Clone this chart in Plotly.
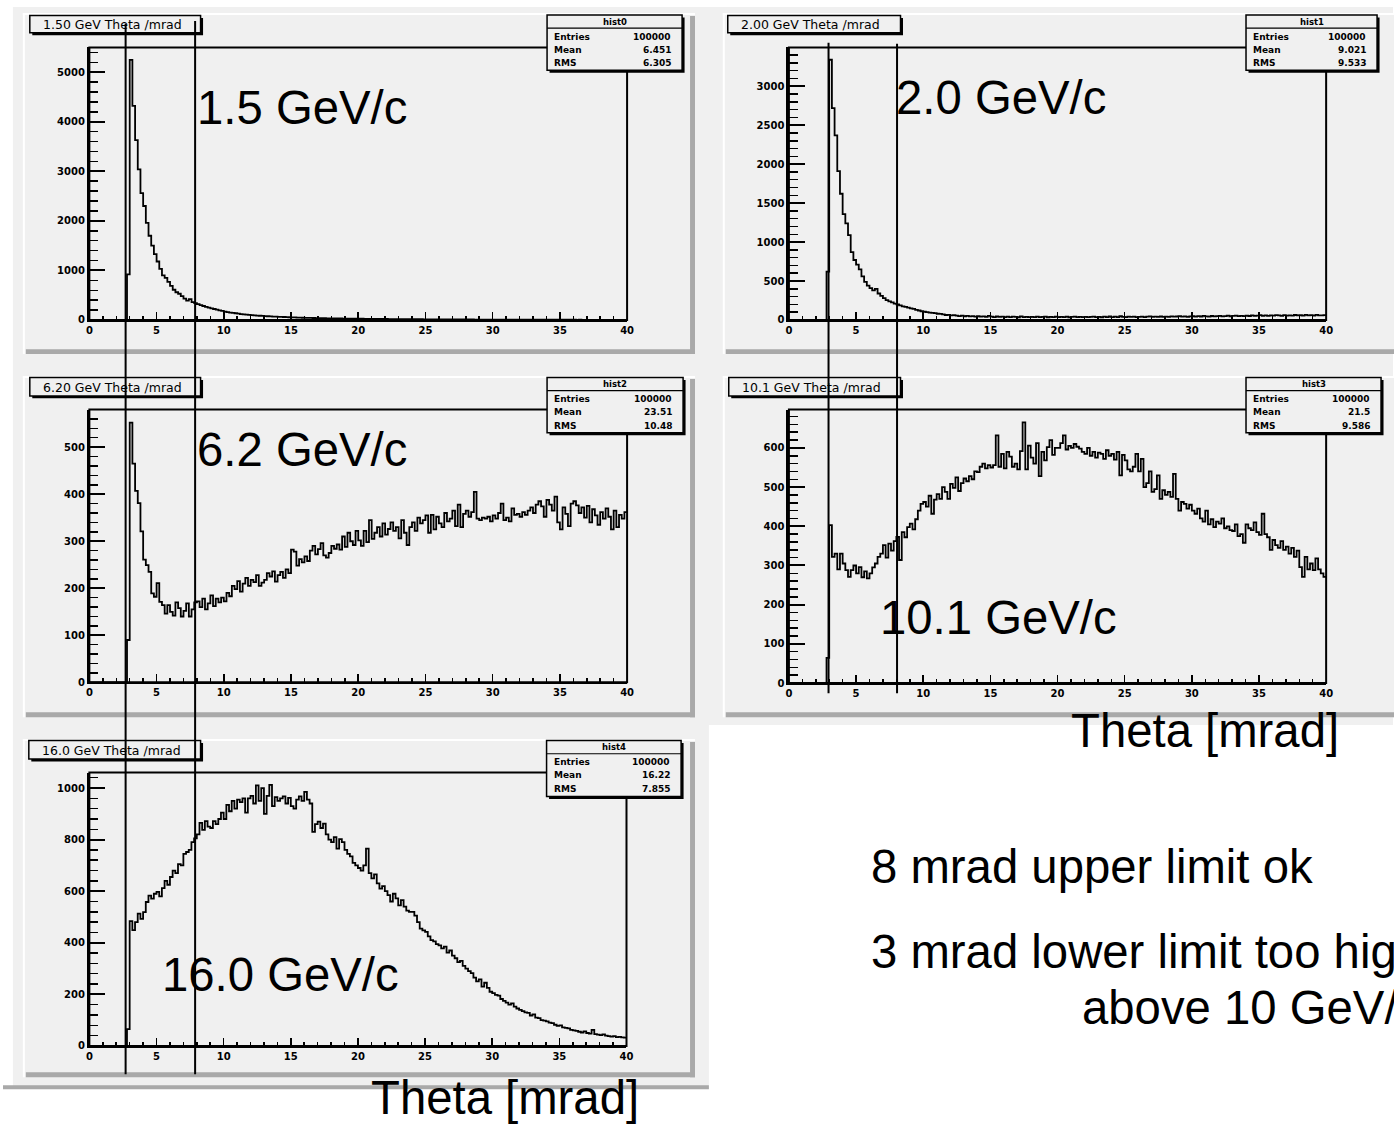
import numpy as np
import plotly.graph_objects as go

W, H = 1394, 1128

# ---------------- data ----------------
X_MIN, X_MAX, N_BINS = 0.0, 40.0, 200

H_1_5 = [
    0, 0, 0, 0, 0, 0, 0, 0, 0, 0,
    0, 0, 0, 0, 920, 5250, 4320, 3630, 3040, 2560,
    2300, 1960, 1700, 1500, 1330, 1180, 1030, 900, 850, 770,
    690, 610, 560, 530, 480, 430, 390, 420, 360, 340,
    320, 300, 282, 265, 250, 236, 222, 208, 196, 184,
    170, 160, 150, 142, 136, 128, 120, 115, 110, 104,
    100, 95, 90, 86, 82, 79, 76, 72, 69, 66,
    64, 61, 60, 57, 55, 52, 51, 49, 47, 45,
    44, 42, 41, 40, 38, 37, 36, 35, 34, 33,
    32, 31, 30, 30, 29, 28, 28, 27, 26, 26,
    25, 25, 24, 23, 23, 22, 22, 21, 21, 20,
    20, 19, 19, 18, 18, 18, 17, 17, 16, 16,
    16, 15, 15, 15, 14, 14, 14, 13, 13, 13,
    12, 12, 12, 12, 11, 11, 11, 11, 10, 10,
    10, 10, 10, 9, 9, 9, 9, 9, 8, 8,
    8, 8, 8, 8, 7, 7, 7, 7, 7, 7,
    7, 6, 6, 6, 6, 6, 6, 6, 6, 5,
    5, 5, 5, 5, 5, 5, 5, 5, 5, 5,
    5, 4, 5, 4, 4, 4, 4, 4, 4, 4,
    4, 4, 4, 4, 4, 4, 3, 4, 3, 3,
]

H_2_0 = [
    0, 0, 0, 0, 0, 0, 0, 0, 0, 0,
    0, 0, 0, 0, 620, 3340, 2720, 2370, 1910, 1620,
    1360, 1240, 1090, 870, 770, 710, 650, 560, 490, 440,
    410, 380, 400, 340, 310, 280, 255, 240, 225, 210,
    200, 188, 175, 168, 160, 150, 142, 131, 122, 112,
    106, 100, 95, 92, 88, 80, 78, 72, 64, 66,
    58, 62, 55, 50, 56, 48, 52, 46, 50, 44,
    48, 42, 46, 40, 52, 44, 38, 45, 40, 42,
    38, 44, 36, 42, 40, 35, 46, 38, 41, 36,
    40, 37, 44, 36, 39, 42, 35, 40, 38, 43,
    36, 40, 37, 42, 35, 39, 44, 36, 40, 38,
    41, 36, 39, 43, 37, 40, 35, 42, 38, 45,
    38, 42, 36, 48, 40, 37, 44, 39, 42, 36,
    40, 44, 38, 42, 46, 39, 43, 40, 45, 41,
    44, 40, 47, 42, 45, 50, 43, 47, 41, 46,
    48, 43, 50, 45, 52, 47, 44, 51, 46, 49,
    53, 47, 50, 55, 48, 52, 56, 50, 54, 49,
    55, 51, 58, 53, 57, 62, 54, 59, 52, 60,
    56, 62, 58, 54, 63, 57, 60, 55, 64, 58,
    61, 56, 65, 59, 62, 57, 66, 60, 58, 63,
]

H_6_2 = [
    0, 0, 0, 0, 0, 0, 0, 0, 0, 0,
    0, 0, 0, 0, 90, 552, 465, 407, 381, 321,
    261, 249, 235, 189, 182, 211, 171, 164, 146, 164,
    150, 142, 170, 158, 140, 152, 168, 140, 155, 170,
    172, 160, 178, 155, 168, 185, 162, 178, 170, 180,
    172, 190, 183, 205, 198, 215, 193, 210, 222, 205,
    218, 213, 228, 205, 212, 218, 232, 225, 236, 214,
    228, 235, 222, 240, 232, 282, 278, 248, 262, 255,
    268, 258, 280, 290, 272, 283, 296, 270, 265, 275,
    290, 284, 293, 282, 310, 288, 318, 300, 292, 322,
    302, 290, 322, 298, 345, 305, 318, 330, 310, 338,
    314, 326, 340, 322, 330, 306, 345, 318, 292, 330,
    340, 322, 350, 338, 345, 355, 318, 356, 325, 352,
    338, 330, 360, 342, 348, 365, 332, 378, 330, 358,
    365, 352, 362, 405, 348, 345, 350, 348, 352, 342,
    355, 348, 360, 380, 345, 350, 342, 370, 356, 358,
    352, 362, 356, 365, 372, 360, 378, 385, 374, 352,
    388, 378, 365, 395, 340, 325, 372, 358, 332, 380,
    385, 376, 360, 372, 350, 375, 340, 368, 355, 335,
    362, 348, 370, 352, 325, 365, 330, 356, 348, 362,
]

H_10_1 = [
    0, 0, 0, 0, 0, 0, 0, 0, 0, 0,
    0, 0, 0, 0, 64, 403, 322, 330, 290, 330,
    305, 288, 271, 288, 300, 280, 296, 270, 285, 267,
    280, 295, 305, 322, 330, 352, 320, 356, 338, 362,
    373, 314, 385, 372, 398, 407, 392, 418, 440, 457,
    462, 450, 478, 432, 468, 482, 470, 500, 488, 470,
    508, 498, 525, 490, 510, 522, 515, 528, 520, 540,
    538, 552, 560, 548, 556, 550, 556, 632, 552, 585,
    548, 590, 578, 552, 560, 545, 592, 665, 545, 606,
    575, 560, 612, 528, 590, 568, 602, 620, 582, 600,
    600, 612, 632, 596, 605, 600, 610, 603, 598, 590,
    585, 600, 580, 590, 575, 588, 585, 572, 594, 580,
    585, 570, 590, 530, 582, 568, 545, 540, 552, 585,
    540, 572, 500, 510, 540, 488, 495, 530, 470, 492,
    480, 488, 475, 534, 470, 440, 462, 457, 445, 455,
    440, 432, 445, 420, 412, 440, 405, 418, 398, 412,
    407, 420, 395, 400, 390, 388, 405, 375, 380, 358,
    405, 395, 390, 410, 385, 378, 432, 380, 372, 340,
    365, 352, 345, 362, 340, 348, 330, 345, 322, 338,
    296, 271, 322, 290, 305, 288, 318, 290, 280, 271,
]

H_16_0 = [
    0, 0, 0, 0, 0, 0, 0, 0, 0, 0,
    0, 0, 0, 0, 65, 484, 449, 480, 513, 493,
    519, 558, 583, 571, 590, 597, 580, 612, 640, 625,
    655, 680, 670, 705, 700, 745, 752, 760, 790, 805,
    820, 865, 838, 872, 850, 845, 872, 860, 880, 905,
    880, 935, 910, 950, 920, 955, 945, 960, 905, 960,
    970, 940, 1010, 950, 1000, 900, 970, 1012, 930, 965,
    950, 960, 968, 940, 962, 930, 920, 955, 968, 950,
    985, 955, 940, 830, 860, 870, 845, 862, 820, 800,
    790, 810, 765, 802, 790, 760, 745, 735, 710, 700,
    690, 680, 700, 765, 670, 650, 665, 630, 610, 620,
    600, 585, 560, 590, 572, 545, 565, 540, 525, 520,
    520, 505, 480, 455, 448, 442, 425, 410, 405, 395,
    390, 378, 385, 362, 370, 350, 340, 325, 330, 310,
    300, 290, 282, 265, 250, 258, 230, 245, 225, 210,
    205, 198, 195, 182, 175, 168, 160, 165, 152, 145,
    140, 135, 130, 128, 118, 122, 110, 108, 100, 98,
    95, 90, 88, 82, 78, 80, 72, 70, 68, 62,
    60, 58, 55, 52, 56, 50, 48, 62, 46, 44,
    42, 45, 40, 38, 36, 38, 34, 35, 33, 32,
]

HISTS = [H_1_5, H_2_0, H_6_2, H_10_1, H_16_0]
TITLES = ["1.50 GeV Theta /mrad", "2.00 GeV Theta /mrad", "6.20 GeV Theta /mrad",
          "10.1 GeV Theta /mrad", "16.0 GeV Theta /mrad"]
HIST_NAMES = ["hist0", "hist1", "hist2", "hist3", "hist4"]
ENTRIES = ["100000", "100000", "100000", "100000", "100000"]
MEANS = ["6.451", "9.021", "23.51", "21.5", "16.22"]
RMS_VALUES = ["6.305", "9.533", "10.48", "9.586", "7.855"]
MOMENTUM_LABELS = ["1.5 GeV/c", "2.0 GeV/c", "6.2 GeV/c", "10.1 GeV/c", "16.0 GeV/c"]
Y_MAX = [5500, 3498, 580, 698, 1060]
Y_MAJOR = [1000, 500, 100, 100, 200]
Y_MINOR = [200, 100, 20, 20, 40]
X_MAJOR, X_MINOR = 5, 1
AXIS_TITLE = "Theta [mrad]"
NOTE_LINES = ["8 mrad upper limit ok", "3 mrad lower limit too high", "above 10 GeV/c"]

for h in HISTS:
    assert len(h) == N_BINS

edges = np.linspace(X_MIN, X_MAX, N_BINS + 1)

# ---------------- layout geometry (pixels) ----------------
PANELS = [
    dict(plot=(87, 47.7, 628.6, 321.7), pad=(20, 13, 697, 356), title=(27, 15.5, 199, 33),
         stats=(548, 15, 684, 70.7), label=(195, 110)),
    dict(plot=(791.6, 47.7, 1332.7, 321.7), pad=(725, 13, 1410, 356), title=(730, 15.5, 904, 33),
         stats=(1252, 15, 1384, 70.7), label=(899, 100)),
    dict(plot=(87, 411.7, 628.6, 686), pad=(20, 378, 697, 721), title=(27, 379.5, 199, 398),
         stats=(548, 379.5, 685, 435), label=(195, 453.5)),
    dict(plot=(791.6, 411.7, 1332.7, 686.7), pad=(725, 378, 1410, 721), title=(731, 379.5, 904, 398),
         stats=(1252, 379.5, 1388, 435), label=(883.6, 622.5)),
    dict(plot=(87, 776.7, 628, 1051.5), pad=(20, 743, 697, 1083), title=(26, 744.5, 199, 763),
         stats=(547.5, 744.5, 683, 800.7), label=(160.6, 981.5)),
]


def px(x):
    return x / W


def py(y):
    return 1 - y / H


shapes_below, shapes_frames, shapes_boxes, shapes_lines = [], [], [], []
annotations = []

BG = "#f0f0f0"
SHADOW = "#a9a9a9"
BIG = 47.3


def rect(store, x0, y0, x1, y1, fill=None, line_color=None, line_width=0, layer="above"):
    d = dict(type="rect", xref="paper", yref="paper",
             x0=px(x0), x1=px(x1), y0=py(y1), y1=py(y0), layer=layer,
             line=dict(width=line_width, color=line_color or "rgba(0,0,0,0)"))
    if fill:
        d["fillcolor"] = fill
    store.append(d)


def text(s, x, y, size, family="DejaVu Sans", xanchor="left", weight="normal"):
    annotations.append(dict(text=s, x=px(x), y=py(y), xref="paper", yref="paper",
                            xanchor=xanchor, yanchor="middle", showarrow=False,
                            font=dict(family=family, size=size, color="black", weight=weight)))


# canvas
rect(shapes_below, 10, 7, 1400, 729, fill=BG, layer="below")
rect(shapes_below, 10, 729, 711, 1092, fill=BG, layer="below")
rect(shapes_below, 0, 1091, 711, 1095, fill=SHADOW, layer="below")

fig = go.Figure()

for i, (p, vals) in enumerate(zip(PANELS, HISTS)):
    n = i + 1
    x0, y0, x1, y1 = p["pad"]
    # pad with bevel
    rect(shapes_below, x0, y0, x1, y1, fill=BG, layer="below")
    rect(shapes_below, x0, y0, x1, y0 + 2, fill="#ffffff", layer="below")
    rect(shapes_below, x0, y0, x0 + 2, y1, fill="#ffffff", layer="below")
    rect(shapes_below, x0 + 3, y1 - 5, x1, y1, fill=SHADOW, layer="below")
    rect(shapes_below, x1 - 5, y0 + 3, x1, y1, fill=SHADOW, layer="below")

    L, T, R, B = p["plot"]
    xa = "xaxis" if n == 1 else f"xaxis{n}"
    ya = "yaxis" if n == 1 else f"yaxis{n}"
    xr = "x" if n == 1 else f"x{n}"
    yr = "y" if n == 1 else f"y{n}"

    fig.add_trace(go.Scatter(
        x=list(edges), y=list(vals) + [vals[-1]], xaxis=xr, yaxis=yr, mode="lines",
        line=dict(shape="hv", color="black", width=1.8), showlegend=False, hoverinfo="skip"))

    fig.update_layout(**{
        xa: dict(domain=[px(L), px(R)], anchor=yr, range=[X_MIN, X_MAX],
                 showgrid=False, zeroline=False, showline=True, linecolor="black", linewidth=2,
                 ticks="inside", tickmode="linear", tick0=0, dtick=X_MAJOR, ticklen=8,
                 tickwidth=1.5, tickcolor="black",
                 minor=dict(ticks="inside", tickmode="linear", tick0=0, dtick=X_MINOR, ticklen=4,
                            tickwidth=1.5, tickcolor="black", showgrid=False),
                 tickfont=dict(family="DejaVu Sans", size=10, color="black", weight="bold"),
                 fixedrange=True),
        ya: dict(domain=[py(B), py(T)], anchor=xr, range=[0, Y_MAX[i]],
                 showgrid=False, zeroline=False, showline=True, linecolor="black", linewidth=2.5,
                 ticks="inside", tickmode="linear", tick0=0, dtick=Y_MAJOR[i], ticklen=16,
                 tickwidth=2, tickcolor="black", tickformat="d",
                 minor=dict(ticks="inside", tickmode="linear", tick0=0, dtick=Y_MINOR[i], ticklen=9,
                            tickwidth=1.5, tickcolor="black", showgrid=False),
                 tickfont=dict(family="DejaVu Sans", size=10, color="black", weight="bold"),
                 fixedrange=True),
    })

    # frame
    rect(shapes_frames, L, T, R, B, line_color="black", line_width=2)

    # title box
    tx0, ty0, tx1, ty1 = p["title"]
    rect(shapes_boxes, tx0 + 2.5, ty0 + 2.5, tx1 + 2.5, ty1 + 2.5, fill="black")
    rect(shapes_boxes, tx0, ty0, tx1, ty1, fill=BG, line_color="black", line_width=1.5)
    text(TITLES[i], tx0 + 11, (ty0 + ty1) / 2 + 0.5, 12.5)

    # stats box
    sx0, sy0, sx1, sy1 = p["stats"]
    rect(shapes_boxes, sx0 + 2.5, sy0 + 2.5, sx1 + 2.5, sy1 + 2.5, fill="black")
    rect(shapes_boxes, sx0, sy0, sx1, sy1, fill=BG, line_color="black", line_width=1.5)
    shapes_boxes.append(dict(type="line", xref="paper", yref="paper",
                             x0=px(sx0), x1=px(sx1), y0=py(sy0 + 13.3), y1=py(sy0 + 13.3),
                             line=dict(color="black", width=1.2), layer="above"))
    text(HIST_NAMES[i], (sx0 + sx1) / 2, sy0 + 6.7, 8.5, xanchor="center", weight="bold")
    rows = [("Entries", ENTRIES[i]), ("Mean", MEANS[i]), ("RMS", RMS_VALUES[i])]
    for k, (lab, val) in enumerate(rows):
        yy = sy0 + 21.7 + 13.4 * k
        text(lab, sx0 + 5, yy, 9, weight="bold")
        text(val, sx1 - 9, yy, 9, xanchor="right", weight="bold")

    # momentum label
    lx, ly = p["label"]
    text(MOMENTUM_LABELS[i], lx - 2, ly - 1.5, BIG, family="Liberation Sans")

# free text
text(AXIS_TITLE, 1074, 734, BIG, family="Liberation Sans")
text(AXIS_TITLE, 369, 1103, BIG, family="Liberation Sans")
text(NOTE_LINES[0], 872, 871, BIG, family="Liberation Sans")
text(NOTE_LINES[1], 872, 957, BIG, family="Liberation Sans")
text(NOTE_LINES[2], 1085, 1013, BIG, family="Liberation Sans")

# hand-drawn limit lines
for (x, ya_, yb_) in [(123.5, 24, 1080), (193.5, 21, 1080), (831.5, 43, 697), (900.5, 44, 697)]:
    shapes_lines.append(dict(type="line", xref="paper", yref="paper",
                             x0=px(x), x1=px(x), y0=py(ya_), y1=py(yb_),
                             line=dict(color="black", width=2), layer="above"))

fig.update_layout(
    width=W, height=H, margin=dict(l=0, r=0, t=0, b=0),
    paper_bgcolor="white", plot_bgcolor="rgba(0,0,0,0)",
    shapes=shapes_below + shapes_frames + shapes_boxes + shapes_lines,
    annotations=annotations, showlegend=False,
)

fig.write_html(
    "out.html",
    config={"displayModeBar": False, "staticPlot": True},
    post_script="document.body.style.margin='0px';document.body.style.overflow='hidden';",
)
